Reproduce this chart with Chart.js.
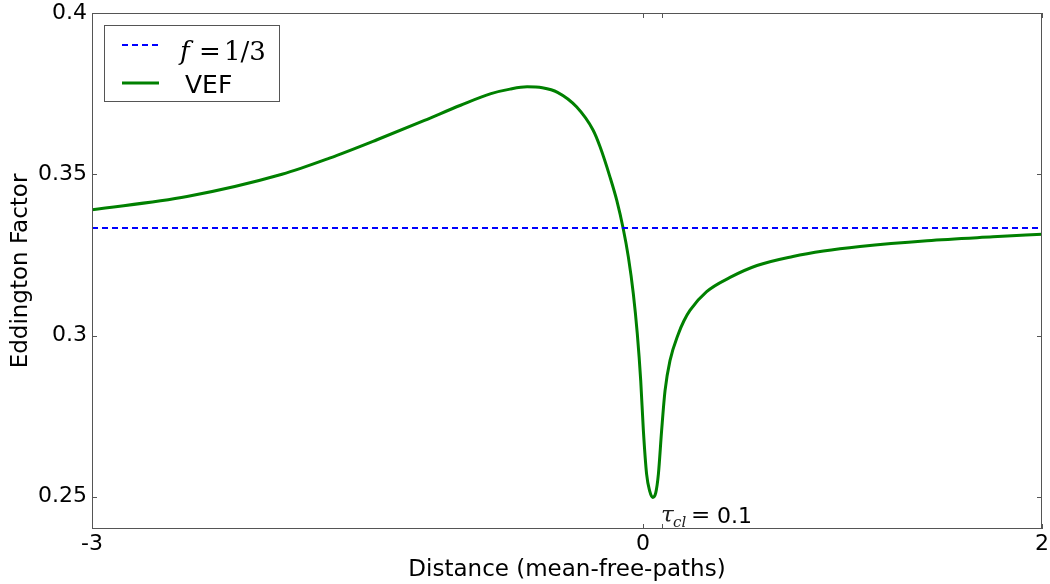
<!DOCTYPE html>
<html>
<head>
<meta charset="utf-8">
<script src="https://cdn.jsdelivr.net/npm/chart.js@4.4.0/dist/chart.umd.min.js"></script>
<style>
  html, body { margin: 0; padding: 0; background: #fff; }
</style>
</head>
<body>
<canvas id="eddingtonChart" width="1050" height="584"></canvas>
<script>
// distance across the cloud (mean-free-paths) and the variable Eddington factor
const distance = [-3.0, -2.5, -2.0, -1.75, -1.5, -1.25, -1.06, -0.9, -0.8, -0.71,
                  -0.63, -0.55, -0.45, -0.363, -0.326, -0.274, -0.238, -0.204, -0.177, -0.151,
                  -0.130, -0.112, -0.098, -0.081, -0.065, -0.049, -0.033, -0.019, -0.002, 0.016,
                  0.042, 0.086, 0.115, 0.147, 0.235, 0.358, 0.5, 0.689, 0.85, 1.042,
                  1.395, 1.742, 2.0];
const vef = [0.3390, 0.3431, 0.3500, 0.3550, 0.3607, 0.3667, 0.3714, 0.3750, 0.3764, 0.3771,
             0.3768, 0.3754, 0.3709, 0.3637, 0.3585, 0.3492, 0.3419, 0.3331, 0.3243, 0.3130,
             0.3005, 0.2860, 0.2705, 0.2570, 0.2518, 0.2498, 0.2512, 0.2570, 0.2705, 0.2829,
             0.2922, 0.3005, 0.3045, 0.3078, 0.3136, 0.3180, 0.3217, 0.3245, 0.3262, 0.3276,
             0.3294, 0.3306, 0.3314];
const isotropic = 1 / 3;

const xTicks = [-3, -0.1, 0, 2];
const xTickLabels = ['-3', '0', '', '2'];
const yTicks = [0.25, 0.3, 0.35, 0.4];
const yTickLabels = ['0.25', '0.3', '0.35', '0.4'];

const xMin = -3, xMax = 2;
const yMin = 0.24, yMax = 0.4;

const frameColor = '#555';

// box, inward tick marks, legend and the cloud label
const decorations = {
  id: 'decorations',
  afterDraw(chart) {
    const { ctx, chartArea: a, scales: { x, y } } = chart;
    ctx.save();
    ctx.strokeStyle = frameColor;
    ctx.lineWidth = 1;
    ctx.strokeRect(a.left + 0.5, a.top + 0.5, a.right - a.left - 1, a.bottom - a.top - 1);

    ctx.beginPath();
    xTicks.forEach(v => {
      const px = Math.round(x.getPixelForValue(v)) + 0.5;
      ctx.moveTo(px, a.bottom); ctx.lineTo(px, a.bottom - 5);
      ctx.moveTo(px, a.top); ctx.lineTo(px, a.top + 5);
    });
    yTicks.forEach(v => {
      const py = Math.round(y.getPixelForValue(v)) + 0.5;
      ctx.moveTo(a.left, py); ctx.lineTo(a.left + 5, py);
      ctx.moveTo(a.right, py); ctx.lineTo(a.right - 5, py);
    });
    ctx.stroke();

    // legend
    ctx.fillStyle = '#fff';
    ctx.fillRect(105, 26, 174, 75);
    ctx.strokeStyle = frameColor;
    ctx.strokeRect(104.5, 25.5, 175, 76);

    ctx.strokeStyle = '#0000ff';
    ctx.lineWidth = 2;
    ctx.setLineDash([6, 4]);
    ctx.beginPath(); ctx.moveTo(122, 45); ctx.lineTo(160, 45); ctx.stroke();
    ctx.setLineDash([]);
    ctx.strokeStyle = '#008000';
    ctx.lineWidth = 3;
    ctx.beginPath(); ctx.moveTo(122, 83); ctx.lineTo(159, 83); ctx.stroke();

    ctx.fillStyle = '#000';
    ctx.textBaseline = 'alphabetic';
    ctx.textAlign = 'left';
    ctx.font = 'italic 26px "DejaVu Serif"';
    ctx.fillText('f', 180, 60);
    ctx.font = '26px "DejaVu Serif"';
    ctx.fillText('=', 199, 60);
    ctx.fillText('1/3', 224, 60);
    ctx.font = '25px "DejaVu Sans"';
    ctx.fillText('VEF', 185, 93);

    // cloud optical depth
    ctx.fillStyle = '#222';
    ctx.font = 'italic 23px "DejaVu Serif"';
    ctx.fillText('\u03C4', 661, 522);
    ctx.font = 'italic 15px "DejaVu Serif"';
    ctx.fillText('cl', 673, 527);
    ctx.fillStyle = '#000';
    ctx.font = '23px "DejaVu Serif"';
    ctx.fillText('=', 691, 522);
    ctx.font = '22px "DejaVu Sans"';
    ctx.fillText('0.1', 717, 523);
    ctx.restore();
  }
};

const ctx = document.getElementById('eddingtonChart').getContext('2d');
const eddingtonChart = new Chart(ctx, {
  type: 'line',
  data: {
    datasets: [{
      label: 'f = 1/3',
      data: [{ x: xMin, y: isotropic }, { x: xMax, y: isotropic }],
      borderColor: '#0000ff',
      borderWidth: 2,
      borderDash: [6, 4],
      pointRadius: 0,
      fill: false
    }, {
      label: 'VEF',
      data: distance.map((d, i) => ({ x: d, y: vef[i] })),
      borderColor: '#008000',
      borderWidth: 3,
      pointRadius: 0,
      cubicInterpolationMode: 'monotone',
      fill: false
    }]
  },
  options: {
    responsive: false,
    animation: false,
    layout: { padding: { top: 13, right: 8, left: 0, bottom: 0 } },
    scales: {
      x: {
        type: 'linear',
        min: xMin,
        max: xMax,
        afterBuildTicks: scale => { scale.ticks = xTicks.map(v => ({ value: v })); },
        afterFit: scale => {
          scale.height = 55;
          scale.paddingLeft = 0;
          scale.paddingRight = 0;
        },
        grid: { display: false, drawTicks: false },
        border: { display: false },
        ticks: {
          autoSkip: false,
          maxRotation: 0,
          padding: 2,
          color: '#000',
          font: { family: 'DejaVu Sans', size: 22 },
          callback: (value, index) => xTickLabels[index]
        },
        title: {
          display: true,
          text: 'Distance (mean-free-paths)',
          color: '#000',
          font: { family: 'DejaVu Sans', size: 23 },
          padding: { top: 5, bottom: 0 }
        }
      },
      y: {
        min: yMin,
        max: yMax,
        afterBuildTicks: scale => { scale.ticks = yTicks.map(v => ({ value: v })); },
        afterFit: scale => {
          scale.width = 92;
          scale.paddingTop = 0;
          scale.paddingBottom = 0;
        },
        grid: { display: false, drawTicks: false },
        border: { display: false },
        ticks: {
          padding: 5,
          color: '#000',
          font: { family: 'DejaVu Sans', size: 22 },
          callback: (value, index) => yTickLabels[index]
        },
        title: {
          display: true,
          text: 'Eddington Factor',
          color: '#000',
          font: { family: 'DejaVu Sans', size: 23 },
          padding: { top: 7, bottom: 0 }
        }
      }
    },
    plugins: {
      legend: { display: false },
      tooltip: { enabled: false }
    }
  },
  plugins: [decorations]
});
</script>
</body>
</html>
